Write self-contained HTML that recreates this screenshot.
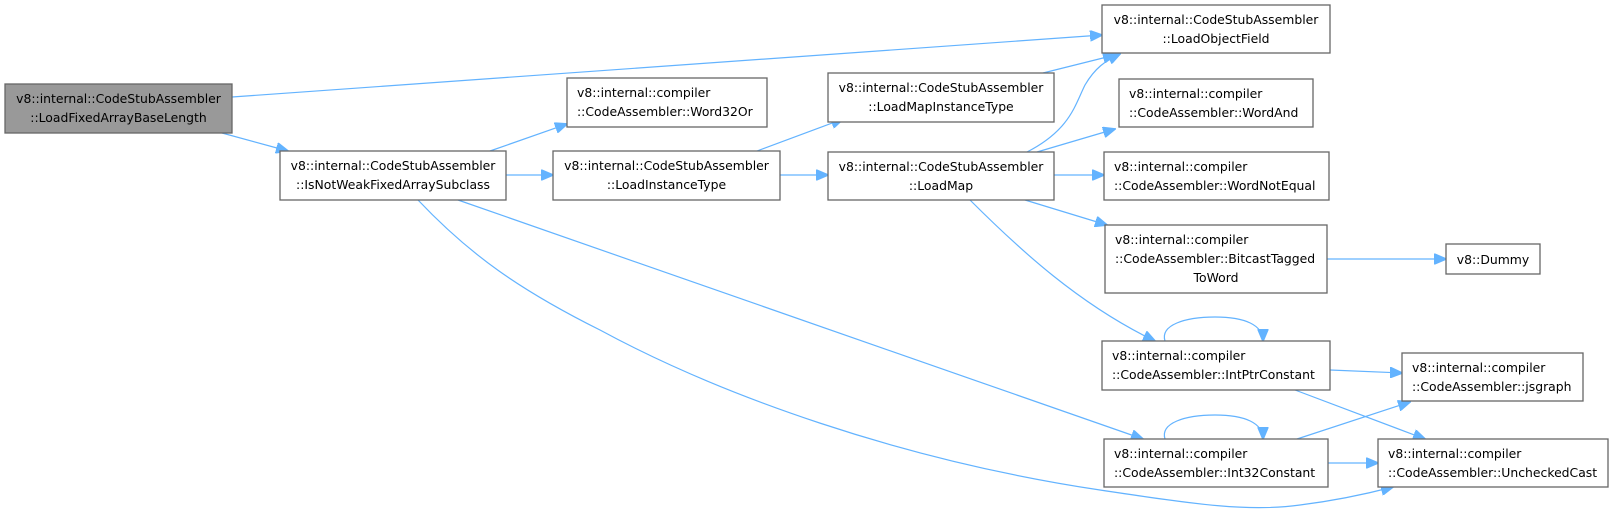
<!DOCTYPE html>
<html><head><meta charset="utf-8"><style>
html,body{margin:0;padding:0;background:#fff;}
svg{display:block;}
text{font-family:"DejaVu Sans","Liberation Sans",sans-serif;font-size:12.4px;fill:#000;}
.b{fill:#fff;stroke:#666;stroke-width:1.3;}
.e{fill:none;stroke:#63b3ff;stroke-width:1.2;}
.a{fill:#63b3ff;stroke:#63b3ff;}
</style></head><body>
<svg width="1614" height="515" viewBox="0 0 1614 515" xmlns="http://www.w3.org/2000/svg">
<defs><marker id="m" markerWidth="13" markerHeight="11" refX="12" refY="5.5" orient="auto" markerUnits="userSpaceOnUse"><path d="M0,0 L13,5.5 L0,11 z" class="a"/></marker></defs>
<path class="e" marker-end="url(#m)" d="M232,97 L1102,35"/>
<path class="e" marker-end="url(#m)" d="M222,133 L288,151"/>
<path class="e" marker-end="url(#m)" d="M490,151 L567,124"/>
<path class="e" marker-end="url(#m)" d="M506,175 L553,175"/>
<path class="e" marker-end="url(#m)" d="M458,200 L1143,439"/>
<path class="e" marker-end="url(#m)" d="M418,200 C470,255 520,290 600,330 C720,395 900,460 1100,490 C1200,505 1250,512 1300,505 C1340,500 1370,493 1393,487"/>
<path class="e" marker-end="url(#m)" d="M757,151 L843,119"/>
<path class="e" marker-end="url(#m)" d="M780,175 L828,175"/>
<path class="e" marker-end="url(#m)" d="M1043,73 L1115,55"/>
<path class="e" marker-end="url(#m)" d="M1027,152 C1070,130 1075,105 1085,85 C1095,68 1105,61 1120,54"/>
<path class="e" marker-end="url(#m)" d="M1037,152 L1115,129"/>
<path class="e" marker-end="url(#m)" d="M1054,175 L1104,175"/>
<path class="e" marker-end="url(#m)" d="M1025,200 L1107,225"/>
<path class="e" marker-end="url(#m)" d="M970,200 C1020,250 1080,305 1155,341"/>
<path class="e" marker-end="url(#m)" d="M1327,259 L1446,259"/>
<path class="e" marker-end="url(#m)" d="M1165,341 C1160,325 1185,317 1215,317 C1245,317 1263,325 1263,341"/>
<path class="e" marker-end="url(#m)" d="M1330,370 L1402,373"/>
<path class="e" marker-end="url(#m)" d="M1295,390 L1425,439"/>
<path class="e" marker-end="url(#m)" d="M1165,439 C1160,423 1185,415 1215,415 C1245,415 1263,423 1263,439"/>
<path class="e" marker-end="url(#m)" d="M1297,439 L1410,402"/>
<path class="e" marker-end="url(#m)" d="M1328,463 L1378,463"/>
<rect x="5" y="84" width="227" height="49" fill="#999" stroke="#666" stroke-width="1.3"/>
<text x="118.5" y="103" text-anchor="middle">v8::internal::CodeStubAssembler</text>
<text x="118.5" y="122" text-anchor="middle">::LoadFixedArrayBaseLength</text>
<rect class="b" x="280" y="151" width="226" height="49"/>
<text x="393" y="170" text-anchor="middle">v8::internal::CodeStubAssembler</text>
<text x="393" y="189" text-anchor="middle">::IsNotWeakFixedArraySubclass</text>
<rect class="b" x="567" y="78" width="200" height="49"/>
<text x="577" y="97">v8::internal::compiler</text>
<text x="577" y="116">::CodeAssembler::Word32Or</text>
<rect class="b" x="553" y="151" width="227" height="49"/>
<text x="666.5" y="170" text-anchor="middle">v8::internal::CodeStubAssembler</text>
<text x="666.5" y="189" text-anchor="middle">::LoadInstanceType</text>
<rect class="b" x="828" y="73" width="226" height="49"/>
<text x="941" y="92" text-anchor="middle">v8::internal::CodeStubAssembler</text>
<text x="941" y="111" text-anchor="middle">::LoadMapInstanceType</text>
<rect class="b" x="828" y="152" width="226" height="48"/>
<text x="941" y="171" text-anchor="middle">v8::internal::CodeStubAssembler</text>
<text x="941" y="190" text-anchor="middle">::LoadMap</text>
<rect class="b" x="1102" y="5" width="228" height="48"/>
<text x="1216" y="24" text-anchor="middle">v8::internal::CodeStubAssembler</text>
<text x="1216" y="43" text-anchor="middle">::LoadObjectField</text>
<rect class="b" x="1119" y="79" width="194" height="48"/>
<text x="1129" y="98">v8::internal::compiler</text>
<text x="1129" y="117">::CodeAssembler::WordAnd</text>
<rect class="b" x="1104" y="152" width="225" height="48"/>
<text x="1114" y="171">v8::internal::compiler</text>
<text x="1114" y="190">::CodeAssembler::WordNotEqual</text>
<rect class="b" x="1105" y="225" width="222" height="68"/>
<text x="1115" y="244">v8::internal::compiler</text>
<text x="1115" y="263">::CodeAssembler::BitcastTagged</text>
<text x="1216" y="282" text-anchor="middle">ToWord</text>
<rect class="b" x="1446" y="244" width="94" height="30"/>
<text x="1493" y="264" text-anchor="middle">v8::Dummy</text>
<rect class="b" x="1102" y="341" width="228" height="49"/>
<text x="1112" y="360">v8::internal::compiler</text>
<text x="1112" y="379">::CodeAssembler::IntPtrConstant</text>
<rect class="b" x="1104" y="439" width="224" height="48"/>
<text x="1114" y="458">v8::internal::compiler</text>
<text x="1114" y="477">::CodeAssembler::Int32Constant</text>
<rect class="b" x="1402" y="353" width="181" height="48"/>
<text x="1412" y="372">v8::internal::compiler</text>
<text x="1412" y="391">::CodeAssembler::jsgraph</text>
<rect class="b" x="1378" y="439" width="230" height="48"/>
<text x="1388" y="458">v8::internal::compiler</text>
<text x="1388" y="477">::CodeAssembler::UncheckedCast</text>
</svg>
</body></html>
